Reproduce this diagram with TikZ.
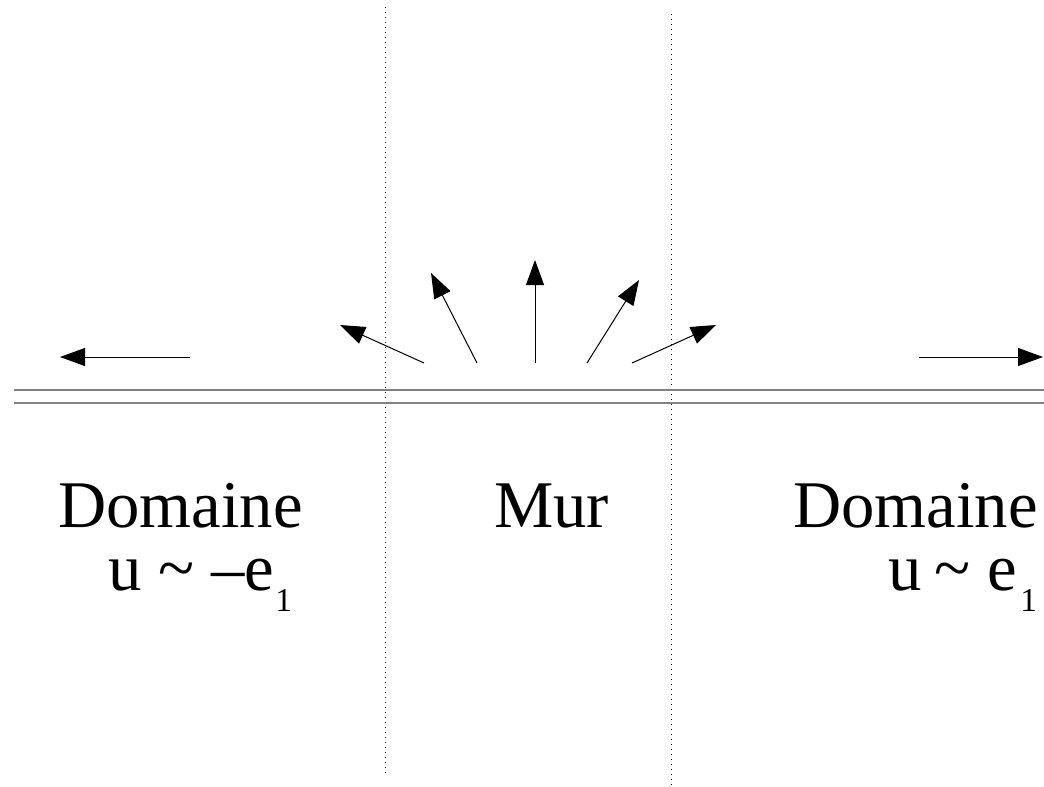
\documentclass[tikz,border=0pt]{standalone}
\usepackage{fontspec}
\setmainfont{Liberation Serif}
\usetikzlibrary{arrows.meta}

\tikzset{
  flow/.style={draw=black, line width=0.75pt, -{Triangle[length=18.75pt, width=13.5pt]}},
  wall/.style={draw=black!50, line width=1.1pt},
  border/.style={draw=black, line width=0.75pt, dash pattern=on 0.75pt off 3pt},
  big/.style={inner sep=0pt, font=\fontsize{50}{58}\selectfont},
  sub/.style={inner sep=0pt, font=\fontsize{25}{30}\selectfont}
}

\begin{document}
\begin{tikzpicture}[x=0.75pt, y=-0.75pt]
  \useasboundingbox (0,0) rectangle (1044,786);

  % boundaries of the wall region
  \coordinate (bl1) at (385,7);   \coordinate (bl2) at (385,773);
  \coordinate (br1) at (671,14);  \coordinate (br2) at (671,786);
  \draw[border] (bl1) -- (bl2);
  \draw[border] (br1) -- (br2);

  % the wall: two parallel lines
  \coordinate (w1a) at (14,390);  \coordinate (w1b) at (1044,390);
  \coordinate (w2a) at (14,403);  \coordinate (w2b) at (1044,403);
  \draw[wall] (w1a) -- (w1b);
  \draw[wall] (w2a) -- (w2b);

  % far-field directions
  \coordinate (ls) at (190,357);  \coordinate (lt) at (60,357);
  \coordinate (rs) at (919,357);  \coordinate (rt) at (1043,357);
  \draw[flow] (ls) -- (lt);
  \draw[flow] (rs) -- (rt);

  % fan of directions inside the wall
  \coordinate (f1s) at (424,363);   \coordinate (f1t) at (340,325);
  \coordinate (f2s) at (477,363);   \coordinate (f2t) at (431,273);
  \coordinate (f3s) at (535,363);   \coordinate (f3t) at (535,260);
  \coordinate (f4s) at (587,363);   \coordinate (f4t) at (639,280);
  \coordinate (f5s) at (632,363);   \coordinate (f5t) at (716,325);
  \draw[flow] (f1s) -- (f1t);
  \draw[flow] (f2s) -- (f2t);
  \draw[flow] (f3s) -- (f3t);
  \draw[flow] (f4s) -- (f4t);
  \draw[flow] (f5s) -- (f5t);

  % labels
  \node[big, anchor=base west] (domL) at (58,527) {Domaine};
  \node[big, anchor=base west] (mur)  at (494,527) {Mur};
  \node[big, anchor=base west] (domR) at (793,527) {Domaine};

  \node[big, anchor=base west] (uL) at (108,590) {u \textasciitilde{} –e};
  \node[sub, anchor=base west] (iL) at (275,611) {1};

  \node[big, anchor=base west] (uR) at (888,590) {u\hspace{-0.06em} \textasciitilde{} e};
  \node[sub, anchor=base west] (iR) at (1020,611) {1};
\end{tikzpicture}
\end{document}
